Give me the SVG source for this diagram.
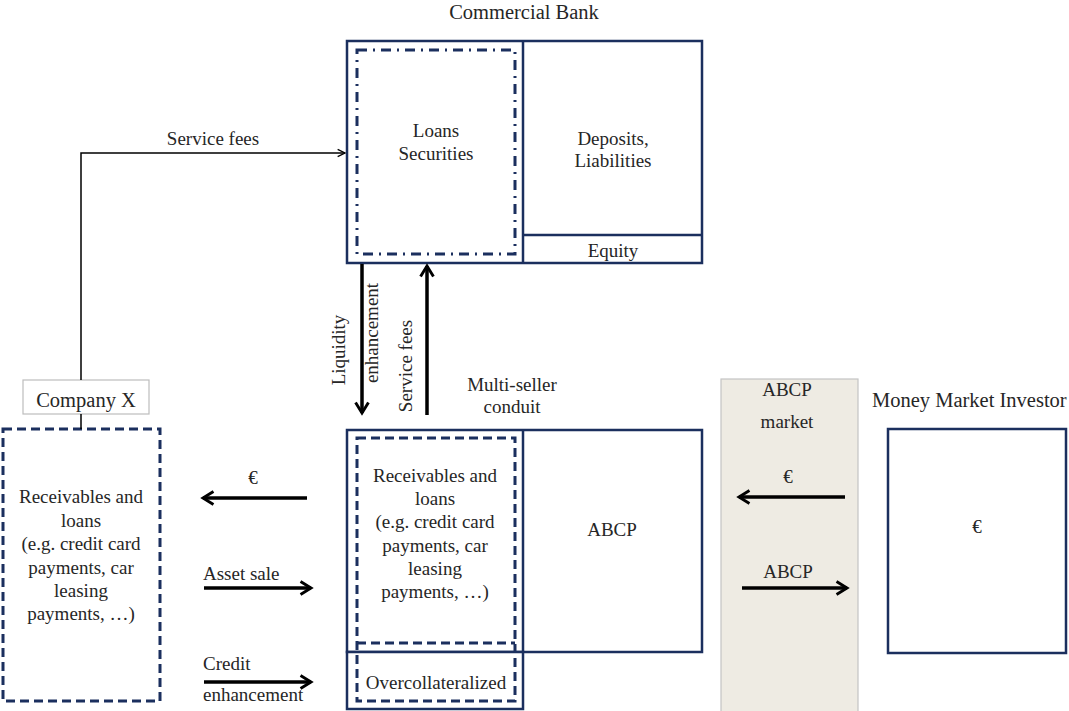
<svg xmlns="http://www.w3.org/2000/svg" width="1069" height="711" viewBox="0 0 1069 711">
<defs>
<style>
text{font-family:"Liberation Serif","Times New Roman",serif;font-size:19px;fill:#262626;}
.c{text-anchor:middle;}
.big{font-size:20.5px;}
.box{fill:#fff;stroke:#1b2f5e;stroke-width:2.5;}
.dash{fill:none;stroke:#1b2f5e;stroke-width:3;stroke-dasharray:9 5;}
.dashdot{fill:none;stroke:#1b2f5e;stroke-width:3;stroke-dasharray:10 6 2 6;}
.thick{stroke:#000;stroke-width:3.5;fill:none;}
.thin{stroke:#000;stroke-width:1.5;fill:none;}
</style>
<marker id="ah" viewBox="0 0 10 10" refX="8" refY="5" markerWidth="4.6" markerHeight="4.6" orient="auto" markerUnits="strokeWidth">
<path d="M1.5,1 L8,5 L1.5,9" fill="none" stroke="#000" stroke-width="1.8"/>
</marker>
<marker id="ahs" viewBox="0 0 10 10" refX="9" refY="5" markerWidth="7" markerHeight="7" orient="auto" markerUnits="strokeWidth">
<path d="M2,1.5 L9,5 L2,8.5" fill="none" stroke="#000" stroke-width="1.3"/>
</marker>
</defs>
<rect width="1069" height="711" fill="#fff"/>

<g id="abcp-market">
<rect x="721" y="379" width="137" height="340" fill="#eeebe3" stroke="#c4c4c4" stroke-width="1.2"/>
<text class="c" x="787" y="396">ABCP</text>
<text class="c" x="787" y="428">market</text>
</g>

<g id="commercial-bank">
<text class="c big" x="524" y="19">Commercial Bank</text>
<rect class="box" x="347" y="41" width="355" height="222"/>
<line x1="523" y1="41" x2="523" y2="263" stroke="#1b2f5e" stroke-width="2.5"/>
<line x1="523" y1="235" x2="702" y2="235" stroke="#1b2f5e" stroke-width="2.5"/>
<rect class="dashdot" x="357" y="50" width="158" height="204"/>
<text class="c" x="436" y="137">Loans</text>
<text class="c" x="436" y="160">Securities</text>
<text class="c" x="613" y="145">Deposits,</text>
<text class="c" x="613" y="167">Liabilities</text>
<text class="c" x="613" y="257">Equity</text>
</g>

<g id="company-x">
<rect x="23" y="380" width="126" height="34" fill="#fff" stroke="#bdbdbd" stroke-width="1.2"/>
<text class="c big" x="86" y="407">Company X</text>
</g>

<g id="company-assets">
<rect class="dash" x="3" y="429" width="157" height="272"/>
<text class="c" x="81" y="503">Receivables and</text>
<text class="c" x="81" y="527">loans</text>
<text class="c" x="81" y="550">(e.g. credit card</text>
<text class="c" x="81" y="574">payments, car</text>
<text class="c" x="81" y="597">leasing</text>
<text class="c" x="81" y="620">payments, …)</text>
</g>

<g id="conduit">
<text class="c" x="512" y="391">Multi-seller</text>
<text class="c" x="512" y="413">conduit</text>
<rect class="box" x="347" y="430" width="355" height="222"/>
<line x1="523" y1="430" x2="523" y2="652" stroke="#1b2f5e" stroke-width="2.5"/>
<rect class="box" x="347" y="652" width="176" height="57"/>
<rect class="dash" x="357" y="438" width="158" height="263"/>
<line class="dash" x1="357" y1="643" x2="515" y2="643"/>
<text class="c" x="435" y="482">Receivables and</text>
<text class="c" x="435" y="505">loans</text>
<text class="c" x="435" y="528">(e.g. credit card</text>
<text class="c" x="435" y="552">payments, car</text>
<text class="c" x="435" y="575">leasing</text>
<text class="c" x="435" y="598">payments, …)</text>
<text class="c" x="436" y="689">Overcollateralized</text>
<text class="c" x="612" y="536">ABCP</text>
</g>

<g id="money-market-investor">
<text class="big" x="872" y="407">Money Market Investor</text>
<rect class="box" x="888" y="429" width="178" height="224"/>
<text class="c" x="977" y="533">€</text>
</g>

<g id="connectors">
<polyline class="thin" points="81,380 81,153 345,153" marker-end="url(#ahs)"/>
<line class="thin" x1="81" y1="414" x2="81" y2="429"/>
<text class="c" x="213" y="145">Service fees</text>

<line class="thick" x1="362" y1="264" x2="362" y2="413" marker-end="url(#ah)"/>
<line class="thick" x1="427" y1="415" x2="427" y2="266" marker-end="url(#ah)"/>
<text class="c" transform="translate(345,350) rotate(-90)">Liquidity</text>
<text class="c" transform="translate(378,333) rotate(-90)">enhancement</text>
<text class="c" transform="translate(412,366) rotate(-90)">Service fees</text>

<line class="thick" x1="307" y1="498" x2="203" y2="498" marker-end="url(#ah)"/>
<text class="c" x="253" y="484">€</text>
<line class="thick" x1="204" y1="588" x2="311" y2="588" marker-end="url(#ah)"/>
<text x="203" y="580">Asset sale</text>
<line class="thick" x1="204" y1="682" x2="311" y2="682" marker-end="url(#ah)"/>
<text x="203" y="670">Credit</text>
<text x="203" y="701">enhancement</text>

<line class="thick" x1="845" y1="497" x2="739" y2="497" marker-end="url(#ah)"/>
<text class="c" x="788" y="483">€</text>
<line class="thick" x1="742" y1="588" x2="847" y2="588" marker-end="url(#ah)"/>
<text class="c" x="788" y="578">ABCP</text>
</g>
</svg>
